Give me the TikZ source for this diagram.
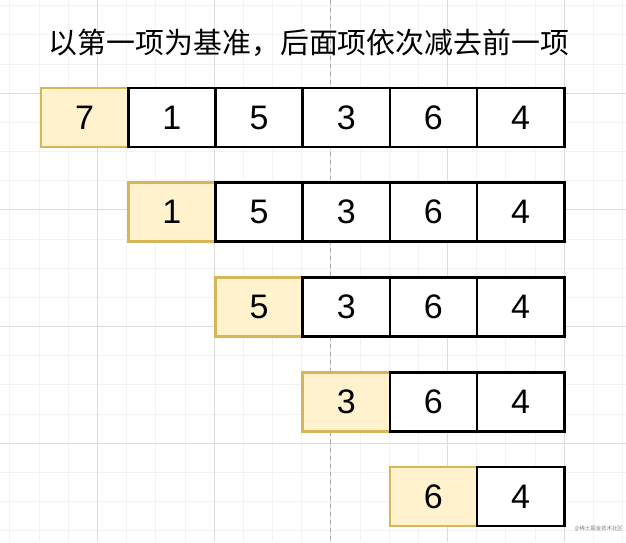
\documentclass[tikz,border=0pt]{standalone}
\usepackage{fontspec}
\setmainfont{Liberation Sans}
\newfontfamily\cjk{Noto Sans CJK SC}
\usepackage{xcolor}
\usetikzlibrary{positioning}

\definecolor{minorgrid}{HTML}{F3F3F3}
\definecolor{majorgrid}{HTML}{DCDCDC}
\definecolor{basefill}{HTML}{FFF2CC}
\definecolor{baseline}{HTML}{D6B656}
\definecolor{guideline}{HTML}{A8A8A8}

\begin{document}
\begin{tikzpicture}[x=1pt,y=1pt,
    cell/.style={draw=black,fill=white,line width=2.6pt,minimum width=87.2pt,minimum height=59pt,inner sep=0pt,outer sep=0pt,font=\fontsize{34}{34}\selectfont},
    basecell/.style={cell,draw=baseline,fill=basefill},
    node distance=0pt]
    \useasboundingbox (0,0) rectangle (626,542);
    \fill[white] (0,0) rectangle (626,542);

    % background grid
    \begin{scope}[shift={(97.3,449)}]
        \draw[minorgrid,line width=0.6pt,step=29.17pt] (-97.3,-449) grid (528.7,93);
        \draw[majorgrid,line width=0.8pt,step=116.67pt] (-97.3,-449) grid (528.7,93);
    \end{scope}

    % dashed guide
    \draw[guideline,line width=0.9pt,dash pattern=on 4pt off 4pt] (330.6,542) -- (330.6,0);

    % title
    \node (title) at (309,499) {\cjk\fontsize{28.9}{28.9}\selectfont 以第一项为基准，后面项依次减去前一项};

    % first row
    \node[basecell] (a1) at (84.6,424.5) {7};
    \node[cell,right=of a1] (a2) {1};
    \node[cell,right=of a2] (a3) {5};
    \node[cell,right=of a3] (a4) {3};
    \node[cell,right=of a4] (a5) {6};
    \node[cell,right=of a5] (a6) {4};

    % second row
    \node[basecell,below=35.75pt of a2] (b1) {1};
    \node[cell,right=of b1] (b2) {5};
    \node[cell,right=of b2] (b3) {3};
    \node[cell,right=of b3] (b4) {6};
    \node[cell,right=of b4] (b5) {4};

    % third row
    \node[basecell,below=35.75pt of b2] (c1) {5};
    \node[cell,right=of c1] (c2) {3};
    \node[cell,right=of c2] (c3) {6};
    \node[cell,right=of c3] (c4) {4};

    % fourth row
    \node[basecell,below=35.75pt of c2] (d1) {3};
    \node[cell,right=of d1] (d2) {6};
    \node[cell,right=of d2] (d3) {4};

    % fifth row
    \node[basecell,below=35.75pt of d2] (e1) {6};
    \node[cell,right=of e1] (e2) {4};

    % watermark
    \node[gray,font=\cjk\fontsize{5.4}{5.4}\selectfont,anchor=west] (mark) at (571,13) {@稀土掘金技术社区};
\end{tikzpicture}
\end{document}
